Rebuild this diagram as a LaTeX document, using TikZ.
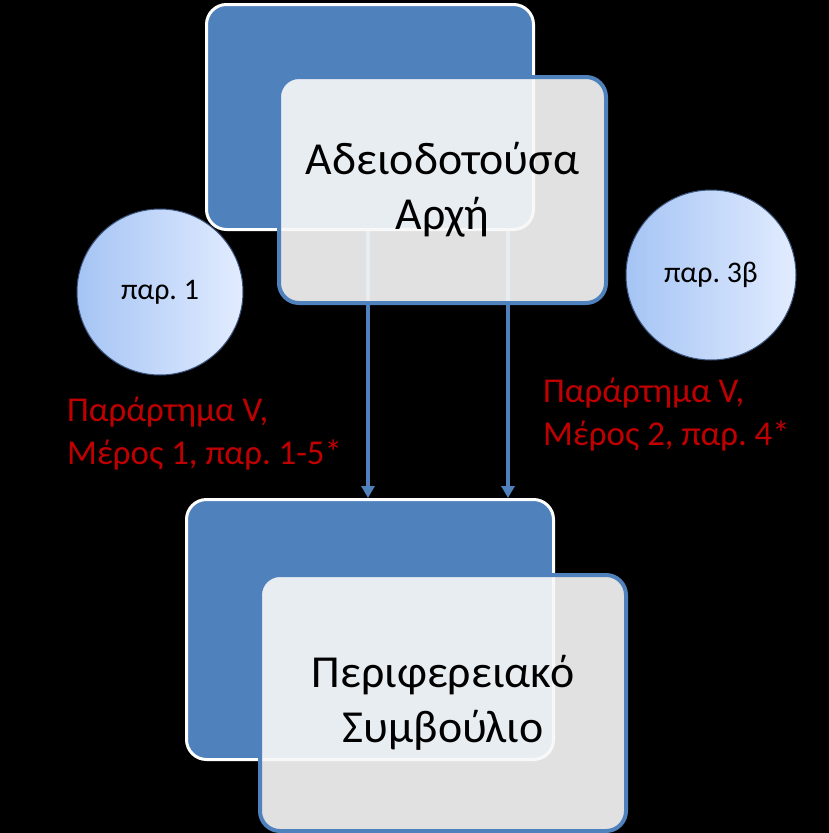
\documentclass[tikz,border=0pt]{standalone}
\usepackage{fontspec}
\setmainfont{Carlito}
\frenchspacing
\usetikzlibrary{arrows.meta}
\definecolor{accent}{RGB}{79,129,189}
\definecolor{frontfill}{RGB}{248,248,248}
\definecolor{redtext}{RGB}{192,0,0}
\definecolor{circL}{RGB}{165,196,244}
\definecolor{circR}{RGB}{226,236,255}
\definecolor{circedge}{RGB}{60,85,125}
\tikzset{
  backbox/.style={rectangle, rounded corners=20bp, fill=accent, draw=white, line width=3bp,
    anchor=north west, inner sep=0pt},
  frontbox/.style={rectangle, rounded corners=20bp, fill=frontfill, fill opacity=0.91,
    text opacity=1, draw=accent, draw opacity=1, line width=4bp, anchor=north west,
    inner sep=0pt, align=center, font=\fontsize{46}{55}\selectfont, text=black},
  bubble/.style={circle, inner sep=0pt, minimum size=#1, left color=circL, right color=circR,
    draw=circedge, line width=1bp, font=\fontsize{30}{36}\selectfont, text=black},
  note/.style={anchor=north west, inner sep=0pt, align=left, text=redtext,
    font=\fontsize{35}{43}\selectfont},
  flow/.style={draw=accent, line width=3.5bp, -{Triangle[length=12bp,width=13bp]}}
}
\begin{document}
\begin{tikzpicture}[x=1bp,y=-1bp]
\fill[black] (0,0) rectangle (829,833);
\useasboundingbox (0,0) rectangle (829,833);

% back boxes
\node[backbox, minimum width=327bp, minimum height=225bp] (tb) at (205,3) {};
\node[backbox, minimum width=367bp, minimum height=260bp] (bb) at (185,498) {};

% connectors
\coordinate (c1) at (368,0);
\coordinate (c2) at (508,0);
\draw[flow] (c1 |- tb.south) -- (c1 |- bb.north);
\draw[flow] (c2 |- tb.south) -- (c2 |- bb.north);

% front boxes
\node[frontbox, minimum width=327bp, minimum height=226bp] (tf) at (277,75) {Αδειοδοτούσα\\Αρχή};
\node[frontbox, minimum width=366bp, minimum height=256bp] (bf) at (258,573) {Περιφερειακό\\Συμβούλιο};

% circles
\node[bubble=166bp] (p1) at (160,292) {παρ. 1};
\node[bubble=170bp] (p3) at (711,275) {παρ. 3β};

% notes
\node[note] (n1) at (67,397) {Παράρτημα V,\\Μέρος 1, παρ. 1-5*};
\node[note] (n2) at (543,378) {Παράρτημα V,\\Μέρος 2, παρ. 4*};
\end{tikzpicture}
\end{document}
